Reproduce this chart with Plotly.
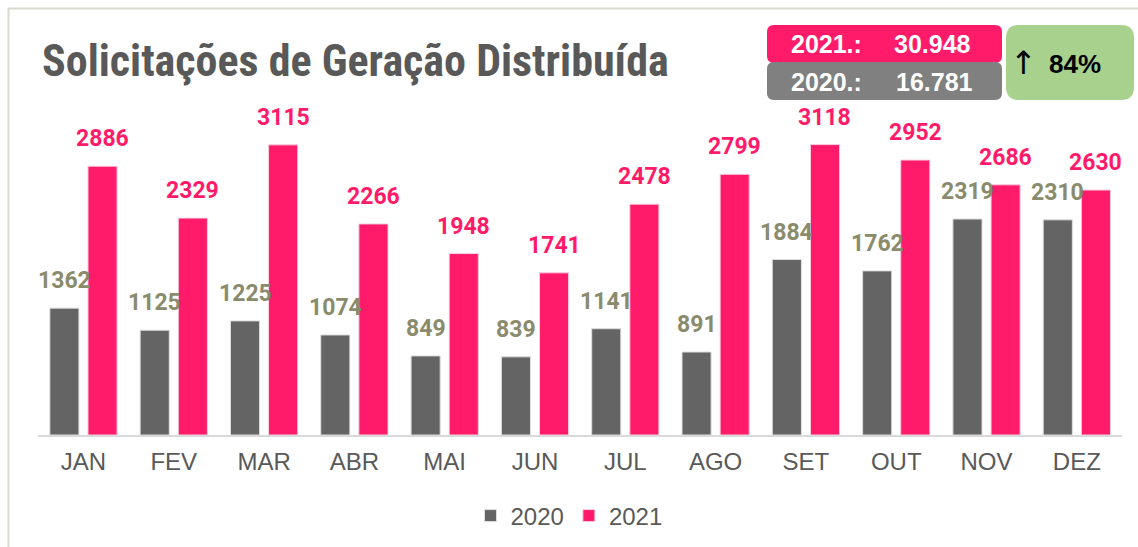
import plotly.graph_objects as go

W, H = 1138, 547

months = ["JAN", "FEV", "MAR", "ABR", "MAI", "JUN", "JUL", "AGO", "SET", "OUT", "NOV", "DEZ"]
v2020 = [1362, 1125, 1225, 1074, 849, 839, 1141, 891, 1884, 1762, 2319, 2310]
v2021 = [2886, 2329, 3115, 2266, 1948, 1741, 2478, 2799, 3118, 2952, 2686, 2630]
series_names = ["2020", "2021"]
total_2021 = "30.948"
total_2020 = "16.781"
growth = "84%"
title_text = "Solicitações de Geração Distribuída"

C2020 = "#646464"
C2021 = "#FF1A6A"
LBL2020 = "#8A8B6C"
TXT = "#595959"


def px(x):
    return x / W


def py(y):
    return 1 - y / H


def rrect(x0, y0, x1, y1, r):
    pts = [
        ("M", [(x0 + r, y0)]),
        ("L", [(x1 - r, y0)]),
        ("Q", [(x1, y0), (x1, y0 + r)]),
        ("L", [(x1, y1 - r)]),
        ("Q", [(x1, y1), (x1 - r, y1)]),
        ("L", [(x0 + r, y1)]),
        ("Q", [(x0, y1), (x0, y1 - r)]),
        ("L", [(x0, y0 + r)]),
        ("Q", [(x0, y0), (x0 + r, y0)]),
    ]
    s = ""
    for cmd, ps in pts:
        s += cmd + " ".join(f"{px(a):.5f},{py(b):.5f}" for a, b in ps) + " "
    return s + "Z"


fig = go.Figure()
fig.add_trace(go.Bar(x=months, y=v2020, name=series_names[0], marker=dict(color=C2020, line=dict(color="#dddddd", width=1))))
fig.add_trace(go.Bar(x=months, y=v2021, name=series_names[1], marker=dict(color=C2021, line=dict(color="#f5d0dc", width=1))))

annotations = []
for m, a, b in zip(months, v2020, v2021):
    annotations.append(dict(x=m, y=a, xref="x", yref="y", text=str(a), showarrow=False,
                            xshift=-19, yshift=12, xanchor="center", yanchor="bottom",
                            font=dict(family="Roboto", size=23, color=LBL2020, weight="bold")))
    annotations.append(dict(x=m, y=b, xref="x", yref="y", text=str(b), showarrow=False,
                            xshift=19, yshift=12, xanchor="center", yanchor="bottom",
                            font=dict(family="Roboto", size=23, color=C2021, weight="bold")))


def pa(x, y, text, font, xanchor="center"):
    return dict(x=px(x), y=py(y), xref="paper", yref="paper", text=text, showarrow=False,
                xanchor=xanchor, yanchor="middle", font=font)


box_font = dict(family="Liberation Sans, Arial", size=25, color="white", weight="bold")
annotations += [
    pa(826, 44, "2021.:", box_font),
    pa(932, 44, total_2021, box_font),
    pa(826, 82, "2020.:", box_font),
    pa(934, 82, total_2020, box_font),
    pa(1023, 63, "↑", dict(family="DejaVu Sans", size=32, color="black")),
    pa(1075, 64, growth, dict(family="Liberation Sans, Arial", size=26, color="black", weight="bold")),
    pa(40, 61, title_text,
       dict(family="Liberation Sans Narrow, Arial Narrow, Roboto Condensed, Liberation Sans", size=44, color=TXT, weight="bold"),
       xanchor="left"),
]

shapes = [
    dict(type="rect", xref="paper", yref="paper", x0=px(8.5), y0=py(8.5), x1=px(1150), y1=py(560),
         line=dict(color="#D9D9D0", width=2), layer="below"),
    dict(type="path", xref="paper", yref="paper", path=rrect(767, 25, 1002, 63, 7), fillcolor=C2021, line=dict(width=0), layer="below"),
    dict(type="path", xref="paper", yref="paper", path=rrect(767, 62, 1002, 100, 7), fillcolor="#808080", line=dict(width=0), layer="below"),
    dict(type="path", xref="paper", yref="paper", path=rrect(1006, 25, 1134, 100, 13), fillcolor="#A9D18E", line=dict(width=0), layer="below"),
]

fig.update_layout(
    width=W, height=H,
    margin=dict(l=0, r=0, t=0, b=0),
    paper_bgcolor="white", plot_bgcolor="rgba(0,0,0,0)",
    barmode="group", bargap=14 / 90, bargroupgap=9 / 38,
    showlegend=True,
    legend=dict(orientation="h", x=0.5, xanchor="center", y=py(516), yanchor="middle",
                font=dict(family="Liberation Sans, Arial", size=24, color=TXT)),
    xaxis=dict(domain=[px(38.3), px(1122)], type="category", range=[-0.5, 11.5],
               showline=True, linecolor="#D9D9D9", linewidth=2, ticks="", showgrid=False,
               ticklabelstandoff=4,
               tickfont=dict(family="Liberation Sans, Arial", size=24, color=TXT)),
    yaxis=dict(domain=[py(435), py(109)], range=[0, 3500], visible=False, showgrid=False),
    annotations=annotations,
    shapes=shapes,
)

fig.write_html("out.html", config={"displayModeBar": False},
               post_script="document.body.style.margin='0';document.body.style.padding='0';")
